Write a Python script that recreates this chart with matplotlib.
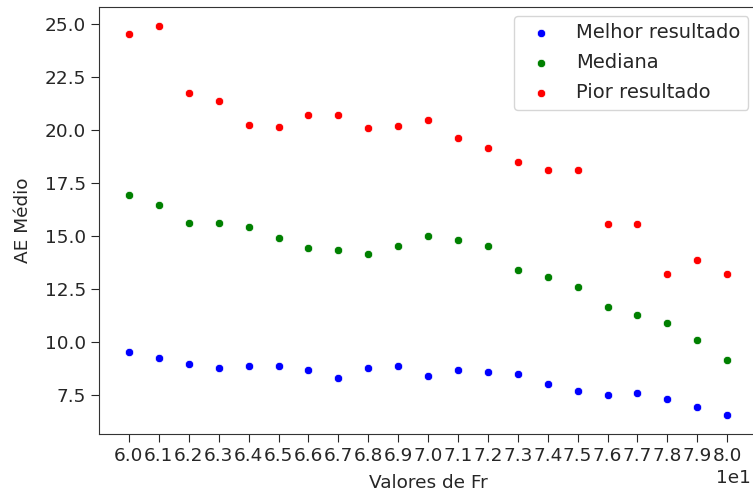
import matplotlib
matplotlib.use("Agg")
import matplotlib.pyplot as plt

# Fr values and mean AE results per run group
fr_values = list(range(60, 81))

melhor = [9.53, 9.25, 8.98, 8.79, 8.88, 8.88, 8.71, 8.33, 8.79, 8.88, 8.43,
          8.71, 8.62, 8.53, 8.05, 7.69, 7.50, 7.59, 7.31, 6.95, 6.59]
mediana = [16.95, 16.50, 15.64, 15.64, 15.46, 14.91, 14.45, 14.34, 14.17, 14.53, 15.00,
           14.81, 14.54, 13.43, 13.07, 12.59, 11.67, 11.31, 10.93, 10.09, 9.18]
pior = [24.53, 24.90, 21.76, 21.38, 20.27, 20.17, 20.74, 20.74, 20.09, 20.18, 20.47,
        19.64, 19.17, 18.52, 18.15, 18.15, 15.57, 15.57, 13.24, 13.88, 13.24]

series = [
    ("Melhor resultado", melhor, "blue"),
    ("Mediana", mediana, "green"),
    ("Pior resultado", pior, "red"),
]

plt.rcParams["font.size"] = 13.3
plt.rcParams["text.color"] = "#262626"
plt.rcParams["axes.labelcolor"] = "#262626"
plt.rcParams["xtick.color"] = "#262626"
plt.rcParams["ytick.color"] = "#262626"
plt.rcParams["xtick.major.size"] = 5.5
plt.rcParams["ytick.major.size"] = 5.5
plt.rcParams["xtick.major.pad"] = 4
plt.rcParams["ytick.major.pad"] = 4

fig = plt.figure(figsize=(7.53, 4.95), dpi=100)
ax = fig.add_axes([0.1315, 0.123, 0.874, 0.863])
for side in ax.spines.values():
    side.set_color("#333333")

for label, values, color in series:
    ax.scatter(fr_values, values, s=36, color=color, edgecolors="white",
               linewidths=0.5, label=label)

ax.set_xticks(fr_values)
ax.ticklabel_format(axis="x", style="sci", scilimits=(0, 0))
ax.xaxis.get_offset_text().set_x(0.99)
ax.set_yticks([7.5, 10.0, 12.5, 15.0, 17.5, 20.0, 22.5, 25.0])
ax.set_xlabel("Valores de Fr", labelpad=6)
ax.set_ylabel("AE Médio", labelpad=9)
ax.legend(loc="upper right", borderaxespad=0.45, fontsize=14, labelspacing=0.55)

fig.savefig("out.png", dpi=100)
